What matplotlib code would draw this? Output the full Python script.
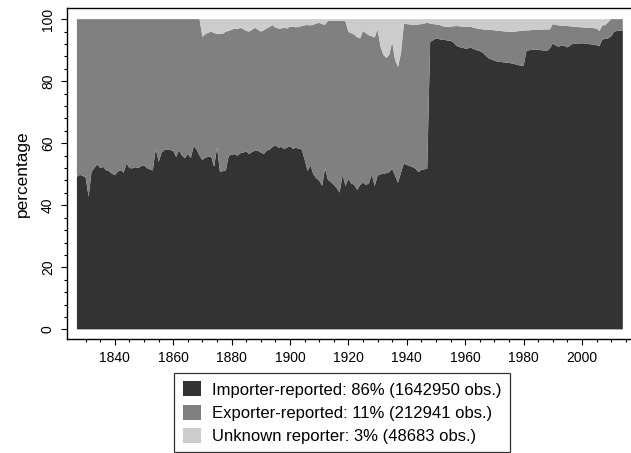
import matplotlib
matplotlib.use("Agg")
import matplotlib.pyplot as plt
import numpy as np

plt.rcParams['font.family'] = ['Liberation Sans', 'DejaVu Sans']

# years covered, one value per year
years = np.arange(1827, 2015)

# share of importer-reported flows (%)
importer = [
    49.2, 49.8, 49.5, 49.0, 42.7, 50.8, 52.0, 53.2, 52.0, 52.4,   # 1827-1836
    51.3, 51.0, 50.2, 49.7, 50.9, 51.3, 50.5, 53.5, 52.0, 51.9,   # 1837-1846
    52.3, 52.0, 52.6, 52.9, 52.0, 51.6, 51.2, 58.3, 54.0, 57.0,   # 1847-1856
    57.8, 58.0, 57.8, 57.6, 55.6, 57.8, 56.0, 55.2, 56.6, 55.2,   # 1857-1866
    59.1, 58.0, 56.0, 54.6, 55.4, 55.6, 55.8, 52.4, 58.7, 50.8,   # 1867-1876
    51.0, 51.1, 56.0, 56.3, 56.5, 56.0, 56.8, 57.0, 57.4, 56.5,   # 1877-1886
    57.2, 57.6, 57.6, 57.0, 56.5, 57.6, 58.0, 58.8, 59.4, 58.6,   # 1887-1896
    58.8, 58.2, 58.6, 59.1, 58.2, 58.6, 58.2, 58.0, 54.8, 51.1,   # 1897-1906
    52.9, 50.0, 48.7, 48.0, 46.3, 51.9, 48.2, 47.5, 46.6, 45.5,   # 1907-1916
    44.1, 50.0, 46.2, 48.5, 47.0, 46.6, 45.0, 46.5, 47.3, 46.6,   # 1917-1926
    47.0, 50.0, 46.2, 49.6, 50.0, 50.1, 50.4, 50.7, 51.8, 49.5,   # 1927-1936
    47.3, 50.5, 53.5, 53.0, 52.7, 52.3, 51.8, 50.7, 51.4, 51.6,   # 1937-1946
    51.8, 92.7, 93.2, 93.8, 93.6, 93.3, 93.3, 93.1, 93.0, 92.5,   # 1947-1956
    91.4, 91.0, 90.8, 90.5, 90.6, 90.8, 90.3, 90.0, 89.7, 89.2,   # 1957-1966
    88.3, 87.4, 87.0, 86.6, 86.3, 86.2, 86.1, 86.0, 85.9, 85.7,   # 1967-1976
    85.5, 85.3, 85.0, 84.9, 89.8, 90.0, 90.1, 90.2, 90.2, 90.0,   # 1977-1986
    89.9, 89.8, 90.5, 92.2, 91.5, 91.1, 91.6, 91.4, 90.9, 91.5,   # 1987-1996
    92.2, 92.1, 92.2, 92.2, 92.2, 92.0, 91.9, 91.8, 91.6, 91.3,   # 1997-2006
    93.5, 93.6, 93.8, 94.5, 95.9, 96.2, 96.3, 96.4,               # 2007-2014
]

# importer + exporter reported share (%), the rest is unknown
known = [
    100, 100, 100, 100, 100, 100, 100, 100, 100, 100,             # 1827-1836
    100, 100, 100, 100, 100, 100, 100, 100, 100, 100,             # 1837-1846
    100, 100, 100, 100, 100, 100, 100, 100, 100, 100,             # 1847-1856
    100, 100, 100, 100, 100, 100, 100, 100, 100, 100,             # 1857-1866
    100, 100, 100, 94.3, 95.2, 95.6, 96.0, 95.5, 95.3, 95.2,      # 1867-1876
    95.3, 96.0, 96.2, 96.6, 97.0, 96.8, 97.2, 96.8, 96.2, 96.0,   # 1877-1886
    96.6, 97.2, 96.6, 96.0, 96.4, 97.0, 97.5, 98.1, 97.3, 97.0,   # 1887-1896
    97.0, 97.2, 97.0, 97.6, 97.5, 97.4, 97.5, 97.8, 98.0, 98.1,   # 1897-1906
    98.0, 98.2, 98.6, 98.8, 98.4, 98.2, 99.5, 99.5, 99.5, 99.5,   # 1907-1916
    99.5, 99.5, 99.3, 95.9, 95.5, 95.0, 94.2, 93.8, 96.2, 95.5,   # 1917-1926
    94.8, 94.5, 94.1, 96.7, 91.1, 88.5, 87.5, 88.5, 92.7, 86.8,   # 1927-1936
    84.6, 89.0, 98.5, 98.4, 98.3, 98.2, 98.1, 98.3, 98.4, 98.6,   # 1937-1946
    98.8, 98.6, 98.4, 98.3, 98.2, 97.8, 97.6, 97.5, 97.6, 97.7,   # 1947-1956
    97.8, 97.7, 97.6, 97.6, 97.5, 97.5, 97.2, 97.0, 96.9, 96.7,   # 1957-1966
    96.6, 96.5, 96.5, 96.4, 96.3, 96.2, 96.1, 96.0, 95.9, 95.9,   # 1967-1976
    96.0, 96.1, 96.2, 96.3, 96.4, 96.4, 96.5, 96.5, 96.6, 96.6,   # 1977-1986
    96.7, 96.7, 96.7, 98.4, 98.2, 98.0, 97.9, 97.8, 97.8, 97.7,   # 1987-1996
    97.6, 97.5, 97.4, 97.4, 97.3, 97.2, 97.2, 97.1, 97.0, 96.2,   # 1997-2006
    98.0, 98.1, 99.0, 100, 100, 100, 100, 100,                    # 2007-2014
]

labels = [
    "Importer-reported: 86% (1642950 obs.)",
    "Exporter-reported: 11% (212941 obs.)",
    "Unknown reporter: 3% (48683 obs.)",
]
colors = ["#333333", "#808080", "#cccccc"]

importer = np.array(importer)
known = np.array(known)
exporter = known - importer
unknown = 100 - known

fig = plt.figure(figsize=(6.31, 4.53), dpi=100)
ax = fig.add_axes([0.1057, 0.2517, 0.8943, 0.730])

ax.stackplot(years, importer, exporter, unknown, colors=colors, labels=labels, linewidth=0)

ax.set_xlim(1823.5, 2016.8)
ax.set_ylim(-3.1, 103.5)
ax.set_xticks(np.arange(1840, 2001, 20))
ax.set_xticks(np.arange(1830, 2016, 5), minor=True)
ax.set_yticks(np.arange(0, 101, 20))
ax.set_yticks(np.arange(0, 101, 4), minor=True)

ax.spines['right'].set_visible(False)
for s in ['left', 'top', 'bottom']:
    ax.spines[s].set_linewidth(1.0)

ax.tick_params(axis='both', which='major', direction='out', length=4.5, width=0.8, labelsize=10, pad=4)
ax.tick_params(axis='both', which='minor', direction='out', length=2.5, width=0.8)
ax.tick_params(axis='y', labelrotation=90)
for lab in ax.get_yticklabels():
    lab.set_va('center')

ax.set_ylabel("percentage", fontsize=12.4, labelpad=8)

leg = fig.legend(loc='upper center', bbox_to_anchor=(342 / 631, 1 - 373 / 453),
                 fontsize=12, frameon=True, fancybox=False, ncol=1,
                 handlelength=1.08, handleheight=1.02, handletextpad=0.68,
                 labelspacing=0.42, borderpad=0.5, borderaxespad=0)
leg.get_frame().set_edgecolor('black')
leg.get_frame().set_linewidth(0.9)

fig.savefig("out.png", dpi=100)
